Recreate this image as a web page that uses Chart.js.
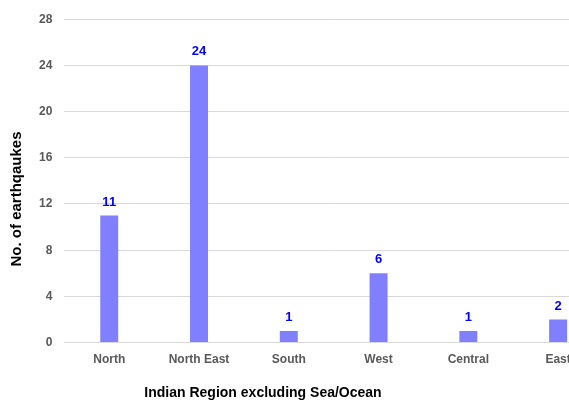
<!DOCTYPE html>
<html>
<head>
<meta charset="utf-8">
<script src="https://cdn.jsdelivr.net/npm/chart.js@4/dist/chart.umd.min.js"></script>
<style>
  html, body { margin: 0; padding: 0; background: #fff; overflow: hidden; width: 569px; height: 400px; }
  #wrap { width: 612px; height: 400px; }
</style>
</head>
<body>
<div id="wrap"><canvas id="c" width="612" height="400"></canvas></div>
<script>
const regions = ['North', 'North East', 'South', 'West', 'Central', 'East'];
const quakeCounts = [11, 24, 1, 6, 1, 2];
const yTicks = [0, 4, 8, 12, 16, 20, 24, 28];
const xTitle = 'Indian Region excluding Sea/Ocean';
const yTitle = 'No. of earthqaukes';

const FONT = "'Liberation Sans', Arial, sans-serif";

// Value labels above bars plus the two axis titles
const overlay = {
  id: 'overlay',
  afterDatasetsDraw(chart) {
    const ctx = chart.ctx;
    const meta = chart.getDatasetMeta(0);
    ctx.save();
    ctx.fillStyle = '#0000FF';
    ctx.font = 'bold 13px ' + FONT;
    ctx.textAlign = 'center';
    ctx.textBaseline = 'bottom';
    meta.data.forEach((bar, i) => {
      ctx.fillText(String(quakeCounts[i]), bar.x, bar.y - 7);
    });
    ctx.fillStyle = '#000';
    ctx.font = 'bold 14px ' + FONT;
    ctx.textBaseline = 'middle';
    ctx.fillText(xTitle, 263, 393);
    ctx.font = 'bold 15px ' + FONT;
    ctx.translate(17, 199);
    ctx.rotate(-Math.PI / 2);
    ctx.fillText(yTitle, 0, 0);
    ctx.restore();
  }
};

new Chart(document.getElementById('c'), {
  type: 'bar',
  data: {
    labels: regions,
    datasets: [{
      data: quakeCounts,
      backgroundColor: '#7F7FFF',
      borderWidth: 0,
      barPercentage: 0.4,
      categoryPercentage: 0.5
    }]
  },
  options: {
    responsive: false,
    animation: false,
    layout: { padding: { left: 27, top: 12, right: 9, bottom: 23 } },
    plugins: { legend: { display: false }, tooltip: { enabled: false } },
    scales: {
      x: {
        grid: { display: false, drawTicks: false },
        border: { display: true, color: '#D9D9D9' },
        ticks: { color: '#595959', font: { family: FONT, size: 12, weight: 'bold' }, padding: 10, maxRotation: 0 }
      },
      y: {
        min: 0, max: 28,
        afterBuildTicks(scale) { scale.ticks = yTicks.map(v => ({ value: v })); },
        grid: { color: '#D9D9D9', drawTicks: false },
        border: { display: false },
        ticks: { color: '#595959', font: { family: FONT, size: 12, weight: 'bold' }, padding: 12 }
      }
    }
  },
  plugins: [overlay]
});
</script>
</body>
</html>
